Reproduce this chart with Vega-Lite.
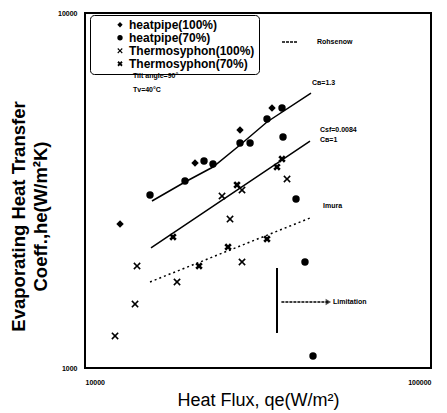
{
  "$schema": "https://vega.github.io/schema/vega-lite/v6.json",
  "width": 346,
  "height": 355,
  "autosize": "none",
  "padding": {"left": 85, "top": 13, "right": 16, "bottom": 45},
  "background": "white",
  "config": {
    "view": {"stroke": "black", "strokeWidth": 2},
    "font": "Liberation Sans"
  },
  "datasets": {
    "pts": [
      {"q": 12626, "h": 2544, "series": "heatpipe(100%)"},
      {"q": 20796, "h": 3780, "series": "heatpipe(100%)"},
      {"q": 28054, "h": 4682, "series": "heatpipe(100%)"},
      {"q": 34713, "h": 5399, "series": "heatpipe(100%)"},
      {"q": 15413, "h": 3071, "series": "heatpipe(70%)"},
      {"q": 19453, "h": 3364, "series": "heatpipe(70%)"},
      {"q": 22080, "h": 3830, "series": "heatpipe(70%)"},
      {"q": 23437, "h": 3755, "series": "heatpipe(70%)"},
      {"q": 28054, "h": 4302, "series": "heatpipe(70%)"},
      {"q": 29996, "h": 4302, "series": "heatpipe(70%)"},
      {"q": 33574, "h": 5028, "series": "heatpipe(70%)"},
      {"q": 37101, "h": 5399, "series": "heatpipe(70%)"},
      {"q": 37350, "h": 4475, "series": "heatpipe(70%)"},
      {"q": 40727, "h": 2993, "series": "heatpipe(70%)"},
      {"q": 43231, "h": 1989, "series": "heatpipe(70%)"},
      {"q": 45600, "h": 1081, "series": "heatpipe(70%)"},
      {"q": 24889, "h": 3051, "series": "Thermosyphon(100%)"},
      {"q": 28430, "h": 3172, "series": "Thermosyphon(100%)"},
      {"q": 38360, "h": 3407, "series": "Thermosyphon(100%)"},
      {"q": 26250, "h": 2628, "series": "Thermosyphon(100%)"},
      {"q": 14137, "h": 1938, "series": "Thermosyphon(100%)"},
      {"q": 18447, "h": 1747, "series": "Thermosyphon(100%)"},
      {"q": 13950, "h": 1514, "series": "Thermosyphon(100%)"},
      {"q": 12212, "h": 1231, "series": "Thermosyphon(100%)"},
      {"q": 28430, "h": 1989, "series": "Thermosyphon(100%)"},
      {"q": 27500, "h": 3278, "series": "Thermosyphon(70%)"},
      {"q": 35880, "h": 3683, "series": "Thermosyphon(70%)"},
      {"q": 37101, "h": 3879, "series": "Thermosyphon(70%)"},
      {"q": 21357, "h": 1938, "series": "Thermosyphon(70%)"},
      {"q": 33574, "h": 2309, "series": "Thermosyphon(70%)"},
      {"q": 25907, "h": 2192, "series": "Thermosyphon(70%)"},
      {"q": 17962, "h": 2339, "series": "Thermosyphon(70%)"}
    ],
    "fits": [
      {"q": 15616, "h": 2954, "fit": "CB=1.3"},
      {"q": 19453, "h": 3342, "fit": "CB=1.3"},
      {"q": 23437, "h": 3683, "fit": "CB=1.3"},
      {"q": 28054, "h": 4248, "fit": "CB=1.3"},
      {"q": 33574, "h": 4932, "fit": "CB=1.3"},
      {"q": 44995, "h": 5951, "fit": "CB=1.3"},
      {"q": 15513, "h": 2178, "fit": "CB=1"},
      {"q": 27500, "h": 3172, "fit": "CB=1"},
      {"q": 44700, "h": 4358, "fit": "CB=1"}
    ],
    "dotted": [
      {"q": 15413, "h": 1747},
      {"q": 44700, "h": 2645}
    ],
    "labels": [
      {"q": 13760, "h": 6644, "text": "Tilt angle=90°"},
      {"q": 13760, "h": 6068, "text": "Tv=40°C"},
      {"q": 45300, "h": 6350, "text": "Cʙ=1.3"},
      {"q": 47770, "h": 4682, "text": "Csf=0.0084"},
      {"q": 47770, "h": 4388, "text": "Cʙ=1"},
      {"q": 48740, "h": 2860, "text": "Imura"},
      {"q": 46830, "h": 8285, "text": "Rohsenow"},
      {"q": 52100, "h": 1534, "text": "Limitation"}
    ]
  },
  "encoding": {
    "x": {
      "field": "q", "type": "quantitative",
      "scale": {"type": "log", "domain": [10000, 100000], "nice": false},
      "axis": {
        "values": [10000, 100000], "format": "d", "domain": false, "ticks": false, "grid": false,
        "labelFontSize": 7, "labelFontWeight": "bold", "labelPadding": 10, "labelColor": "black",
        "title": "Heat Flux, qe(W/m²)", "titleFontSize": 18, "titleFontWeight": "normal", "titleColor": "black", "titlePadding": 6
      }
    },
    "y": {
      "field": "h", "type": "quantitative",
      "scale": {"type": "log", "domain": [1000, 10000], "nice": false},
      "axis": {
        "values": [1000, 10000], "format": "d", "domain": false, "ticks": false, "grid": false,
        "labelFontSize": 7, "labelFontWeight": "bold", "labelPadding": 8, "labelColor": "black",
        "title": ["Evaporating Heat Transfer", "Coeff.,he(W/m²K)"], "titleFontSize": 18.5, "titleFontWeight": "bold", "titleColor": "black", "titleLineHeight": 22, "titlePadding": 7, "titleY": 203
      }
    }
  },
  "layer": [
    {
      "data": {"name": "fits"},
      "mark": {"type": "line", "color": "black", "strokeWidth": 1.5},
      "encoding": {"detail": {"field": "fit"}}
    },
    {
      "data": {"name": "dotted"},
      "mark": {"type": "line", "color": "black", "strokeWidth": 1.5, "strokeDash": [2, 3]},
      "encoding": {}
    },
    {
      "data": {"values": [{"q": 35880, "h": 1913, "h2": 1255}]},
      "mark": {"type": "rule", "color": "black", "strokeWidth": 2},
      "encoding": {"y2": {"field": "h2"}}
    },
    {
      "data": {"values": [{"q": 36950, "q2": 50500, "h": 1534}, {"q": 37101, "q2": 41270, "h": 8285}]},
      "mark": {"type": "rule", "color": "black", "strokeWidth": 1.5, "strokeDash": [3, 1]},
      "encoding": {"x2": {"field": "q2"}}
    },
    {
      "data": {"values": [{"q": 50500, "h": 1534}]},
      "mark": {"type": "point", "shape": "triangle-right", "filled": true, "color": "black", "size": 40},
      "encoding": {}
    },
    {
      "data": {"name": "pts"},
      "mark": {"type": "point", "filled": true, "color": "black", "opacity": 1},
      "encoding": {
        "shape": {
          "field": "series", "type": "nominal",
          "scale": {
            "domain": ["heatpipe(100%)", "heatpipe(70%)", "Thermosyphon(100%)", "Thermosyphon(70%)"],
            "range": ["diamond", "circle",
              "M-1,-0.7L-0.7,-1L0,-0.3L0.7,-1L1,-0.7L0.3,0L1,0.7L0.7,1L0,0.3L-0.7,1L-1,0.7L-0.3,0Z",
              "M-1,-0.5L-0.5,-1L0,-0.5L0.5,-1L1,-0.5L0.5,0L1,0.5L0.5,1L0,0.5L-0.5,1L-1,0.5L-0.5,0Z"]
          },
          "legend": {
            "orient": "none", "legendX": 5, "legendY": 2, "title": null,
            "strokeColor": "black", "cornerRadius": 4, "padding": 4, "symbolOffset": 20,
            "labelFontSize": 12, "labelFontWeight": "bold", "labelColor": "black", "clipHeight": 11.5,
            "symbolFillColor": "black", "symbolStrokeColor": "black", "symbolSize": 28, "rowPadding": 0, "labelOffset": 3
          }
        },
        "size": {"value": 55}
      }
    },
    {
      "data": {"name": "labels"},
      "mark": {"type": "text", "align": "left", "baseline": "middle", "fontSize": 7, "fontWeight": "bold", "color": "black"},
      "encoding": {"text": {"field": "text"}}
    }
  ]
}
